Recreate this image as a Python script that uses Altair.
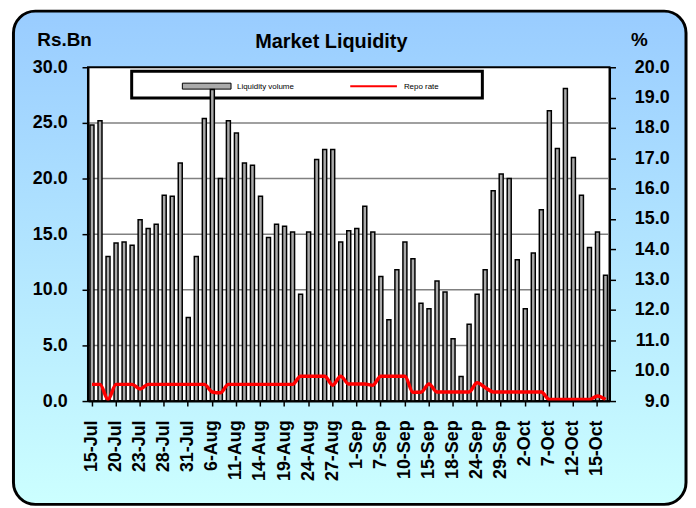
import altair as alt
import pandas as pd

# ---------------- data ----------------
dates = ["15-Jul", "16-Jul", "17-Jul", "20-Jul", "21-Jul", "22-Jul", "23-Jul", "24-Jul", "27-Jul",
         "28-Jul", "29-Jul", "30-Jul", "31-Jul", "3-Aug", "4-Aug", "6-Aug", "7-Aug", "10-Aug",
         "11-Aug", "12-Aug", "13-Aug", "14-Aug", "17-Aug", "18-Aug", "19-Aug", "20-Aug", "21-Aug",
         "24-Aug", "25-Aug", "26-Aug", "27-Aug", "28-Aug", "31-Aug", "1-Sep", "2-Sep", "3-Sep",
         "7-Sep", "8-Sep", "9-Sep", "10-Sep", "11-Sep", "14-Sep", "15-Sep", "16-Sep", "17-Sep",
         "18-Sep", "22-Sep", "23-Sep", "24-Sep", "25-Sep", "28-Sep", "29-Sep", "30-Sep", "1-Oct",
         "2-Oct", "5-Oct", "6-Oct", "7-Oct", "8-Oct", "9-Oct", "12-Oct", "13-Oct", "14-Oct",
         "15-Oct", "16-Oct"]

liquidity = [24.8, 25.2, 13.0, 14.2, 14.3, 14.0, 16.3, 15.5, 15.9, 18.5, 18.4, 21.4, 7.5, 13.0,
             25.4, 28.0, 20.0, 25.2, 24.1, 21.4, 21.2, 18.4, 14.7, 15.9, 15.7, 15.2, 9.6, 15.2,
             21.7, 22.6, 22.6, 14.3, 15.3, 15.5, 17.5, 15.2, 11.2, 7.3, 11.8, 14.3, 12.8, 8.8,
             8.3, 10.8, 9.8, 5.6, 2.2, 6.9, 9.6, 11.8, 18.9, 20.4, 20.0, 12.7, 8.3, 13.3, 17.2,
             26.1, 22.7, 28.1, 21.9, 18.5, 13.8, 15.2, 11.3]

repo = [9.55, 9.55, 9.05, 9.55, 9.55, 9.55, 9.4, 9.55, 9.55, 9.55, 9.55, 9.55, 9.55, 9.55,
        9.55, 9.3, 9.27, 9.55, 9.55, 9.55, 9.55, 9.55, 9.55, 9.55, 9.55, 9.55, 9.82, 9.82,
        9.82, 9.82, 9.52, 9.82, 9.56, 9.56, 9.56, 9.52, 9.82, 9.82, 9.82, 9.82, 9.29, 9.29,
        9.56, 9.3, 9.3, 9.3, 9.3, 9.3, 9.6, 9.45, 9.3, 9.3, 9.3, 9.3, 9.3, 9.3, 9.3,
        9.05, 9.05, 9.05, 9.05, 9.05, 9.05, 9.17, 9.05]

tick_labels = ["15-Jul", "20-Jul", "23-Jul", "28-Jul", "31-Jul", "6-Aug", "11-Aug", "14-Aug",
               "19-Aug", "24-Aug", "27-Aug", "1-Sep", "7-Sep", "10-Sep", "15-Sep", "18-Sep",
               "24-Sep", "29-Sep", "2-Oct", "7-Oct", "12-Oct", "15-Oct"]

left_ticks = [0, 5, 10, 15, 20, 25, 30]
right_ticks = [9, 10, 11, 12, 13, 14, 15, 16, 17, 18, 19, 20]
grid_values = [5, 10, 15, 20, 25]

# ---------------- layout ----------------
W, H = 525, 336
FONT = "Liberation Sans"

df = pd.DataFrame({"date": dates, "liquidity": liquidity, "repo": repo})
one = pd.DataFrame({"k": [0]})
grid_df = pd.DataFrame({"v": grid_values})

gradient = alt.LinearGradient(
    gradient="linear",
    stops=[alt.GradientStop(color="#99ccff", offset=0),
           alt.GradientStop(color="#ccffff", offset=1)],
    x1=0, x2=0, y1=0, y2=1,
)

bg = alt.Chart(one).mark_rect(fill=gradient, stroke="black", strokeWidth=3, cornerRadius=22).encode(
    x=alt.value(-75), x2=alt.value(602), y=alt.value(-56.5), y2=alt.value(440)
)

plot_bg = alt.Chart(one).mark_rect(fill="white", stroke="black", strokeWidth=2).encode(
    x=alt.value(0), x2=alt.value(W), y=alt.value(0), y2=alt.value(H)
)

grid = alt.Chart(grid_df).mark_rule(color="#808080", strokeWidth=1.5).encode(
    y=alt.Y("v:Q", scale=alt.Scale(domain=[0, 30], nice=False), axis=None)
)

label_style = dict(labelFont=FONT, labelFontSize=18, labelFontWeight="bold", labelColor="black")

x_enc = alt.X(
    "date:N", sort=None,
    scale=alt.Scale(type="band", paddingInner=0, paddingOuter=0),
    axis=alt.Axis(values=tick_labels, labelAngle=270, labelAlign="right", labelBaseline="middle",
                  labelPadding=14, tickSize=5, tickColor="black", tickWidth=1.5,
                  domainColor="black", domainWidth=2, title=None, grid=False, zindex=1,
                  labelOverlap=False, **label_style),
)

bars = alt.Chart(df).mark_bar(size=4, fill="#aaaaaa", stroke="black", strokeWidth=1.5).encode(
    x=x_enc,
    y=alt.Y("liquidity:Q", scale=alt.Scale(domain=[0, 30], nice=False),
            axis=alt.Axis(orient="left", values=left_ticks, format=".1f", tickSize=6,
                          tickColor="black", tickWidth=1.5, domainColor="black", domainWidth=2,
                          labelPadding=15, title=None, grid=False, zindex=1, **label_style)),
)

line = alt.Chart(df).mark_line(color="#ff0000", strokeWidth=3.5, interpolate="monotone").encode(
    x=alt.X("date:N", sort=None),
    y=alt.Y("repo:Q", scale=alt.Scale(domain=[9, 20], nice=False, zero=False),
            axis=alt.Axis(orient="right", values=right_ticks, format=".1f", tickSize=6,
                          tickColor="black", tickWidth=1.5, domainColor="black", domainWidth=2,
                          labelAlign="right", labelPadding=54, title=None, grid=False, zindex=1,
                          **label_style)),
)

# legend (drawn as decoration; the bars pass over it as in the original)
leg_box = alt.Chart(one).mark_rect(fill="white", stroke="black", strokeWidth=3).encode(
    x=alt.value(44), x2=alt.value(397), y=alt.value(4), y2=alt.value(31)
)
leg_sym = alt.Chart(one).mark_rect(fill="#aaaaaa", stroke="black", strokeWidth=1).encode(
    x=alt.value(95), x2=alt.value(144), y=alt.value(16), y2=alt.value(22)
)
leg_t1 = alt.Chart(one).mark_text(font=FONT, fontSize=8, align="left", baseline="alphabetic",
                                  color="black").encode(
    x=alt.value(150), y=alt.value(22), text=alt.value("Liquidity   volume")
)
leg_line = alt.Chart(one).mark_rule(color="#ff0000", strokeWidth=2).encode(
    x=alt.value(264), x2=alt.value(311), y=alt.value(19)
)
leg_t2 = alt.Chart(one).mark_text(font=FONT, fontSize=8, align="left", baseline="alphabetic",
                                  color="black").encode(
    x=alt.value(318), y=alt.value(22), text=alt.value("Repo rate")
)

title = alt.Chart(one).mark_text(font=FONT, fontSize=20, fontWeight="bold", align="center",
                                 baseline="alphabetic", color="black").encode(
    x=alt.value(245), y=alt.value(-19.5), text=alt.value("Market Liquidity")
)
ltitle = alt.Chart(one).mark_text(font=FONT, fontSize=19, fontWeight="bold", align="left",
                                  baseline="alphabetic", color="black").encode(
    x=alt.value(-51), y=alt.value(-21), text=alt.value("Rs.Bn")
)
rtitle = alt.Chart(one).mark_text(font=FONT, fontSize=19, fontWeight="bold", align="center",
                                  baseline="alphabetic", color="black").encode(
    x=alt.value(555), y=alt.value(-21), text=alt.value("%")
)

chart = alt.layer(
    bg, plot_bg, grid, leg_box, leg_sym, leg_t1, leg_line, leg_t2, bars, line, title, ltitle, rtitle
).resolve_scale(y="independent").properties(
    width=W, height=H,
    padding={"left": 3.5, "top": 0, "right": 0, "bottom": 0},
).configure_view(stroke=None)

chart.save("out.html", embed_options={"renderer": "svg", "actions": False})
